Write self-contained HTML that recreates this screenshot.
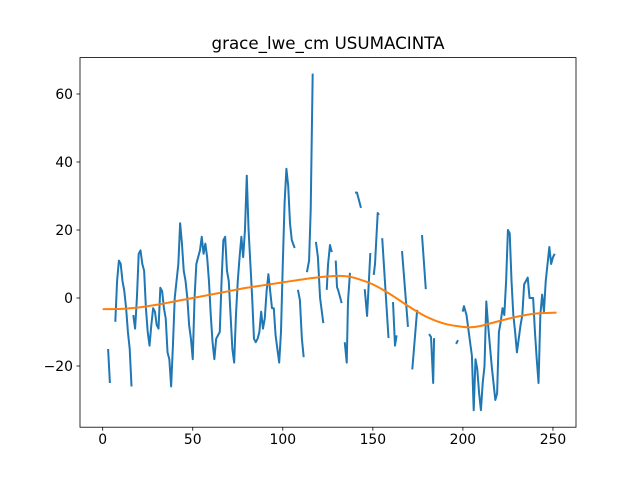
<!DOCTYPE html>
<html><head><meta charset="utf-8"><style>
body{margin:0;background:#fff;}
svg text{font-family:"DejaVu Sans","Liberation Sans",sans-serif;fill:#000;}
</style></head><body>
<svg id="chart" width="640" height="480" xmlns="http://www.w3.org/2000/svg">
<rect x="0" y="0" width="640" height="480" fill="#fff"/>
<text x="328" y="49" font-size="16.7" text-anchor="middle">grace_lwe_cm USUMACINTA</text>
<g id="plot"></g>
</svg>
<script>
const blueX = [3,4,null,7,8,9,10,11,12,13,14,15,16,null,17,18,19,20,21,22,23,24,25,26,27,28,29,30,31,32,33,34,35,36,37,38,39,40,41,42,43,44,45,46,47,48,49,50,51,52,53,54,55,56,57,58,59,60,61,62,63,64,65,66,67,68,69,70,71,72,73,74,75,76,77,78,79,80,81,82,83,84,85,86,87,88,89,90,91,92,93,94,95,96,97,98,99,100,101,102,103,104,105,106.6,null,108.4,109.5,110.6,111.6,null,113.4,114.6,115.5,116.6,null,118.4,119.5,120.7,122.5,null,124.4,125.1,126.2,127.2,null,129.4,130.1,130.7,132.7,null,134.4,135.5,136.2,137.3,null,140.1,141.2,143.4,null,145.5,146.8,148.6,null,150.5,151.2,152.7,153.4,null,155.2,158.7,null,161.2,162.3,163.2,null,166.2,169.5,null,171.9,174.6,null,177.3,179.4,null,181.2,182.3,183.5,184,null,196.2,197.3,null,199.9,200.6,202,203,204,205,206,207,208,209,210,211,212,213,214,215,216,217,218,219,220,221,222,223,224,225,226,227,228,229,230,231,232,233,234,235,236,237,238,239,240,241,242,243,244,245,246,247,248,249,250,251];
const blueY = [-15,-25,null,-7,5,11,10,5,2,-3,-10,-15,-26,null,-5,-9,0,13,14,10,8,-3,-10,-14,-8,-3,-4,-8,-9,3,2,-3,-6,-16,-18,-26,-14,0,5,10,22,16,8,5,0,-8,-12,-18,0,10,12,14,18,13,16,12,5,-5,-13,-18,-12,-11,-10,5,17,18,8,5,-5,-15,-19,-5,5,12,18,12,20,36,20,10,0,-12,-13,-12,-10,-4,-9,-6,2,7,2,-3,-3,-11,-15,-19,-10,10,28,38,33,22,17,14.7,null,2.4,-0.6,-12,-17.4,null,7.6,11,26,66,null,16.5,12,0,-7.4,null,2.4,9.7,15.6,13.5,null,11,3.2,2.4,-1.5,null,-13,-19,-1,7.4,null,31,31,26.5,null,2.6,-5.3,13.2,null,6.8,10,25,24.4,null,17.6,-11.8,null,-1.2,-14,-11,null,13.8,-8.5,null,-21,-3.5,null,18.5,2.6,null,-10.6,-11.5,-25,-11.8,null,-13.5,-12.4,null,-4,-2.4,-5,-9,-13,-17,-33,-18,-21,-28,-33,-25,-20,-1,-8,-14,-20,-25,-30,-28,-10,-7,-3,-5,5,20,19,5,-5,-10,-16,-12,-8,-5,4,5,6,0,0,0,-10,-18,-25,-5,1,-4,5,10,15,10,12,13];
const orangeX = [0,10,20,30,40,50,60,70,80,90,100,110,120,130,135,140,150,160,170,180,190,200,205,210,220,230,240,252];
const orangeY = [-3.3,-3.2,-2.8,-2.0,-1.0,0.0,1.0,2.0,3.0,3.8,4.6,5.4,6.1,6.5,6.4,5.9,4.0,1.0,-2.5,-5.6,-7.6,-8.5,-8.6,-8.2,-6.8,-5.5,-4.6,-4.3];
const xTicks = [0,50,100,150,200,250];
const yTicks = [-20,0,20,40,60];

const L=80,R=576,T=57.6,B=427.2;
const xMin=-12.6,xMax=262.8,yMin=-38,yMax=70.7;
const sx=v=>L+(v-xMin)/(xMax-xMin)*(R-L);
const sy=v=>B-(v-yMin)/(yMax-yMin)*(B-T);
const NS='http://www.w3.org/2000/svg';
const g=document.getElementById('plot');
function mk(tag,attrs){const e=document.createElementNS(NS,tag);for(const k in attrs)e.setAttribute(k,attrs[k]);g.appendChild(e);return e;}

let d='',pen=false;
for(let i=0;i<blueX.length;i++){
  if(blueX[i]===null||blueY[i]===null||blueY[i]===undefined){pen=false;continue;}
  d+=(pen?'L':'M')+sx(blueX[i]).toFixed(2)+','+sy(blueY[i]).toFixed(2);pen=true;
}
const bl=mk('path',{d:d,fill:'none',stroke:'#1f77b4','stroke-width':2,'stroke-linejoin':'round','stroke-linecap':'butt'});



const pts=orangeX.map((x,i)=>[sx(x),sy(orangeY[i])]);
let od='M'+pts[0][0]+','+pts[0][1];
for(let i=0;i<pts.length-1;i++){
  const p0=pts[Math.max(0,i-1)],p1=pts[i],p2=pts[i+1],p3=pts[Math.min(pts.length-1,i+2)];
  const c1=[p1[0]+(p2[0]-p0[0])/6,p1[1]+(p2[1]-p0[1])/6];
  const c2=[p2[0]-(p3[0]-p1[0])/6,p2[1]-(p3[1]-p1[1])/6];
  od+='C'+c1.join(',')+' '+c2.join(',')+' '+p2.join(',');
}
const ol=mk('path',{d:od,fill:'none',stroke:'#ff7f0e','stroke-width':2});



const fr=mk('rect',{x:L,y:T,width:R-L,height:B-T,fill:'none',stroke:'#000','stroke-width':0.8});



xTicks.forEach(v=>{
  const x=sx(v);
  const t=mk('line',{x1:x,x2:x,y1:B,y2:B+3.5,stroke:'#000','stroke-width':0.8});
  
  
  const tx=mk('text',{x:x,y:B+17,'font-size':13.9,'text-anchor':'middle'});
  tx.textContent=v;
  
  
});
yTicks.forEach(v=>{
  const y=sy(v);
  const t=mk('line',{x1:L-3.5,x2:L,y1:y,y2:y,stroke:'#000','stroke-width':0.8});
  
  
  const tx=mk('text',{x:L-7,y:y+5,'font-size':13.9,'text-anchor':'end'});
  tx.textContent=(v<0?'\u2212'+Math.abs(v):v);
  
  
});
</script>
</body></html>
